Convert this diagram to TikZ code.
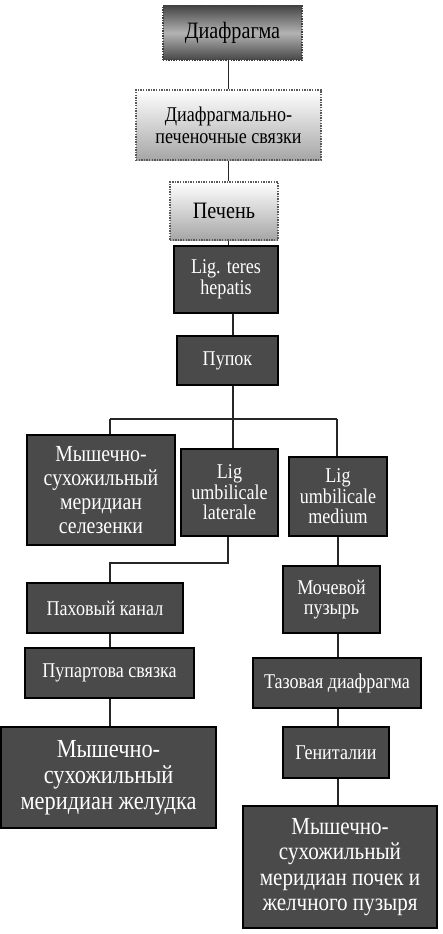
\documentclass[tikz,border=0pt]{standalone}
\usepackage{fontspec}
\setmainfont{Liberation Serif}
\newfontfamily\tallfont[FakeStretch=0.86]{Liberation Serif}
\definecolor{boxgray}{HTML}{4A4A4A}
\tikzset{
  dbox/.style={draw=black, line width=1.4pt, fill=boxgray, text=white, align=center, inner sep=0pt, font=\tallfont\fontsize{21}{20.5}\selectfont},
  bigbox/.style={dbox, font=\tallfont\fontsize{23}{24}\selectfont},
  lbox/.style={draw=black!65, line width=1.6pt, dash pattern=on 1.4pt off 1.2pt, top color=white, bottom color=black!35, align=center, inner sep=0pt, text=black, font=\tallfont\fontsize{21}{22}\selectfont},
  topbox/.style={lbox, draw=black!75, line width=2.6pt, top color=black!72, bottom color=black!72, middle color=black!30},
  conn/.style={draw=black!85, line width=1.3pt}
}
\begin{document}
\begin{tikzpicture}[x=1pt,y=-1pt]
\fill[white] (0,0) rectangle (443,934);
\useasboundingbox (0,0) rectangle (443,934);
% top column
\node[topbox, font=\tallfont\fontsize{23.5}{24}\selectfont, minimum width=139pt, minimum height=54pt] (d1) at (232.5,33) {Диафрагма};
\node[lbox, minimum width=185pt, minimum height=70pt] (d2) at (228.5,125) {Диафрагмально-\\печеночные связки};
\node[lbox, font=\tallfont\fontsize{23.5}{24}\selectfont, minimum width=108pt, minimum height=58pt] (d3) at (224,211) {Печень};
\node[dbox, minimum width=104pt, minimum height=67pt] (t) at (226,279.5) {Lig. teres\\hepatis};
\node[dbox, minimum width=101pt, minimum height=49pt] (p) at (227.5,360.5) {Пупок};
% branches
\node[bigbox, minimum width=148pt, minimum height=110pt] (s) at (101,490) {Мышечно-\\сухожильный\\меридиан\\селезенки};
\node[dbox, minimum width=97pt, minimum height=87pt] (ll) at (229.5,492.5) {Lig\\umbilicale\\laterale};
\node[dbox, minimum width=98pt, minimum height=79pt] (lm) at (338,496.5) {Lig\\umbilicale\\medium};
% left column
\node[dbox, minimum width=156pt, minimum height=50pt] (pk) at (105,608) {Паховый канал};
\node[dbox, minimum width=169pt, minimum height=50pt] (ps) at (109.5,673) {Пупартова связка};
\node[bigbox, font=\tallfont\fontsize{26}{26}\selectfont, minimum width=215pt, minimum height=101pt] (zh) at (108.5,777.5) {Мышечно-\\сухожильный\\меридиан желудка};
% right column
\node[dbox, minimum width=97pt, minimum height=67pt] (mp) at (331.5,599.5) {Мочевой\\пузырь};
\node[dbox, minimum width=168pt, minimum height=50pt] (td) at (337,683) {Тазовая диафрагма};
\node[dbox, minimum width=106pt, minimum height=51pt] (g) at (336,752.5) {Гениталии};
\node[bigbox, font=\tallfont\fontsize{24.5}{25.5}\selectfont, minimum width=194pt, minimum height=122pt] (pp) at (340,867) {Мышечно-\\сухожильный\\меридиан почек и\\желчного пузыря};
% helper coordinates
\coordinate (busL) at (110,419);
\coordinate (busM) at (233,419);
\coordinate (busR) at (337,419);
\coordinate (elb) at (228,563);
% connectors
\draw[conn] (d1.south -| d2.north) -- (d2.north);
\draw[conn] (d2.south) -- (d2.south |- d3.north);
\draw[conn] (d3.south -| d2.south) -- (t.north -| d2.south);
\draw[conn] (t.south -| busM) -- (p.north -| busM);
\draw[conn] (p.south -| busM) -- (busM);
\draw[conn] (busL) -- (busR);
\draw[conn] (busL) -- (busL |- s.north);
\draw[conn] (busM) -- (busM |- ll.north);
\draw[conn] (busR) -- (busR |- lm.north);
\draw[conn] (ll.south -| elb) -- (elb) -- (elb -| busL) -- (pk.north -| busL);
\draw[conn] (pk.south -| busL) -- (ps.north -| busL);
\draw[conn] (ps.south -| busL) -- (zh.north -| busL);
\draw[conn] (lm.south) -- (lm.south |- mp.north);
\draw[conn] (mp.south -| lm.south) -- (td.north -| lm.south);
\draw[conn] (td.south -| lm.south) -- (g.north -| lm.south);
\draw[conn] (g.south -| lm.south) -- (pp.north -| lm.south);
\end{tikzpicture}
\end{document}
